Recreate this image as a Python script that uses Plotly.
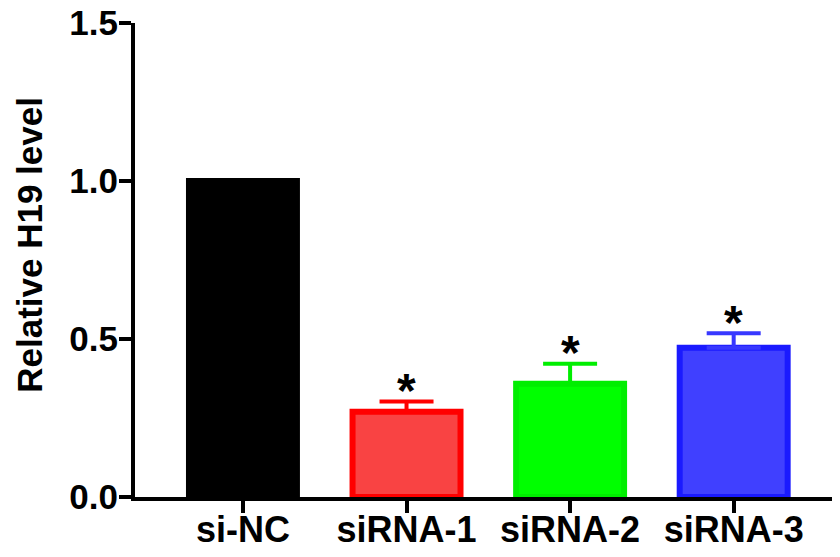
import plotly.graph_objects as go

categories = ["si-NC", "siRNA-1", "siRNA-2", "siRNA-3"]
means = [1.0, 0.27, 0.358, 0.472]
errors = [0.0, 0.032, 0.064, 0.046]
significance = ["", "*", "*", "*"]
fill_colors = ["#000000", "#F94343", "#00FF00", "#4040FF"]
line_colors = ["#000000", "#FF0000", "#00EE00", "#1A1AFF"]
err_colors = ["#000000", "#FF0000", "#00EE00", "#3838FF"]
yticks = [0.0, 0.5, 1.0, 1.5]
ytick_text = ["0.0", "0.5", "1.0", "1.5"]
y_title = "Relative H19 level"

FONT = "Liberation Sans, Arial, sans-serif"

fig = go.Figure()
for i, c in enumerate(categories):
    fig.add_trace(go.Bar(
        x=[c], y=[means[i]],
        width=0.66,
        marker=dict(color=fill_colors[i], line=dict(color=line_colors[i], width=6)),
        error_y=dict(type="data", array=[errors[i]], arrayminus=[0], symmetric=False,
                     visible=errors[i] > 0, color=err_colors[i], thickness=4, width=27),
        showlegend=False,
    ))

for i, c in enumerate(categories):
    if significance[i]:
        fig.add_annotation(x=c, y=means[i] + errors[i], text="<b>" + significance[i] + "</b>",
                           showarrow=False, yanchor="middle", yshift=11,
                           font=dict(family=FONT, size=48, color="black"))

fig.add_annotation(xref="paper", yref="paper", x=-0.149, y=0.532,
                   text="<b>" + y_title + "</b>", textangle=-90, showarrow=False,
                   xanchor="center", yanchor="middle",
                   font=dict(family=FONT, size=35, color="black"))

fig.update_layout(
    width=840, height=557,
    margin=dict(l=127, r=8, t=15, b=68),
    plot_bgcolor="white", paper_bgcolor="white",
    font=dict(family=FONT, color="black"),
    bargap=0.3,
)
fig.update_xaxes(
    range=[-0.66, 3.65], automargin=False,
    showline=True, linecolor="black", linewidth=4,
    ticks="outside", ticklen=12, tickwidth=4, tickcolor="black",
    tickfont=dict(family=FONT, size=36, color="black"),
    tickprefix="<b>", ticksuffix="</b>", ticklabeloverflow="allow",
    ticklabelstandoff=-14,
    showgrid=False, zeroline=False,
)
fig.update_yaxes(
    range=[0, 1.5], automargin=False,
    tickvals=yticks, ticktext=["<b>" + t + "</b>" for t in ytick_text],
    showline=True, linecolor="black", linewidth=4,
    ticks="outside", ticklen=12, tickwidth=4, tickcolor="black",
    tickfont=dict(family=FONT, size=35, color="black"), ticklabeloverflow="allow",
    ticklabelstandoff=-6,
    showgrid=False, zeroline=False,
)

fig.write_html("out.html")
